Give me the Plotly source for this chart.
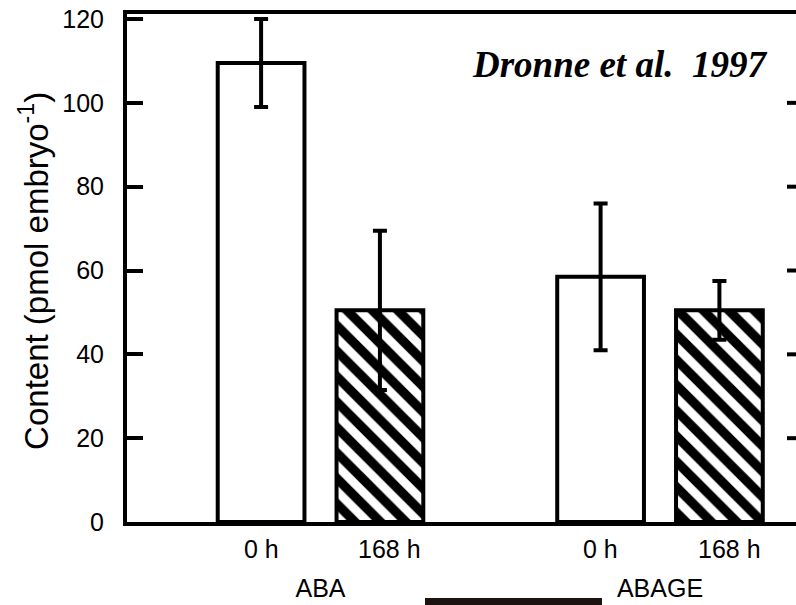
import plotly.graph_objects as go

# ---- data ----
groups = ["ABA", "ABAGE"]
times = ["0 h", "168 h"]
content_0h = [109.5, 58.5]
err_0h = [10.5, 17.5]
content_168h = [50.5, 50.5]
err_168h = [19.0, 7.0]
y_ticks = [0, 20, 40, 60, 80, 100, 120]
right_ticks = [20, 40, 60, 80, 100]
citation = "Dronne et al.  1997"

BARGAP = 0.30
GROUPGAP = 0.27
FONT = "Liberation Sans, Arial, Helvetica, sans-serif"

fig = go.Figure()
fig.add_trace(go.Bar(
    x=groups, y=content_0h, name=times[0],
    marker=dict(color="white", line=dict(color="black", width=4)),
    error_y=dict(type="data", array=err_0h, color="black", thickness=4, width=7),
))
fig.add_trace(go.Bar(
    x=groups, y=content_168h, name=times[1],
    marker=dict(color="white", line=dict(color="black", width=4),
                pattern=dict(shape="\\", fgcolor="black", bgcolor="white",
                             fgopacity=1, size=18, solidity=0.52, fillmode="replace")),
    error_y=dict(type="data", array=err_168h, color="black", thickness=4, width=7),
))

# sub-category labels under each bar
half = (1 - BARGAP) / 4
for i, g in enumerate(groups):
    for j, t in enumerate(times):
        fig.add_annotation(
            x=i + (-half if j == 0 else half), xref="x",
            y=-0.053, yref="paper", yanchor="middle",
            text=t, showarrow=False, xshift=(0 if j == 0 else 10),
            font=dict(family=FONT, size=25, color="black"),
        )

# right-side inward tick stubs (axis line itself is off-frame)
for v in right_ticks:
    fig.add_shape(type="line", xref="paper", yref="y",
                  x0=1 - 9 / 669, x1=1, y0=v, y1=v,
                  line=dict(color="black", width=4))

# y-axis title
fig.add_annotation(
    x=-0.14, xref="paper", y=0.495, yref="paper",
    text="Content (pmol embryo<sup>-1</sup>)", textangle=-90,
    showarrow=False, xanchor="center", yanchor="middle",
    font=dict(family=FONT, size=33, color="black"),
)

# citation
fig.add_annotation(
    x=0.736, xref="paper", y=0.9, yref="paper",
    text="<b><i>" + citation + "</i></b>", showarrow=False,
    xanchor="center", yanchor="middle",
    font=dict(family="Liberation Serif, Times New Roman, serif", size=37, color="black"),
)

# dark strip at the bottom of the scan
fig.add_shape(type="rect", xref="paper", yref="paper",
              x0=(425 - 127) / 669, x1=(602 - 127) / 669,
              y0=-83 / 508, y1=-76 / 508,
              fillcolor="#1c1212", line=dict(width=0), layer="above")

fig.update_layout(
    width=796, height=605,
    margin=dict(l=127, r=0, t=14, b=83, autoexpand=False),
    paper_bgcolor="white", plot_bgcolor="white",
    barmode="group", bargap=BARGAP, bargroupgap=GROUPGAP,
    showlegend=False,
    xaxis=dict(
        range=[-0.570, 1.4006], showgrid=False, zeroline=False,
        showline=True, linecolor="black", linewidth=4, mirror=True,
        ticks="", tickfont=dict(family=FONT, size=25, color="black"),
        ticklabelstandoff=41, automargin=False,
    ),
    yaxis=dict(
        range=[0, 121.2], tickvals=y_ticks, showgrid=False, zeroline=False,
        showline=True, linecolor="black", linewidth=4,
        ticks="inside", ticklen=16, tickwidth=4, tickcolor="black",
        tickfont=dict(family=FONT, size=25, color="black"),
        ticklabelstandoff=14, automargin=False,
    ),
)

fig.write_html("out.html")
